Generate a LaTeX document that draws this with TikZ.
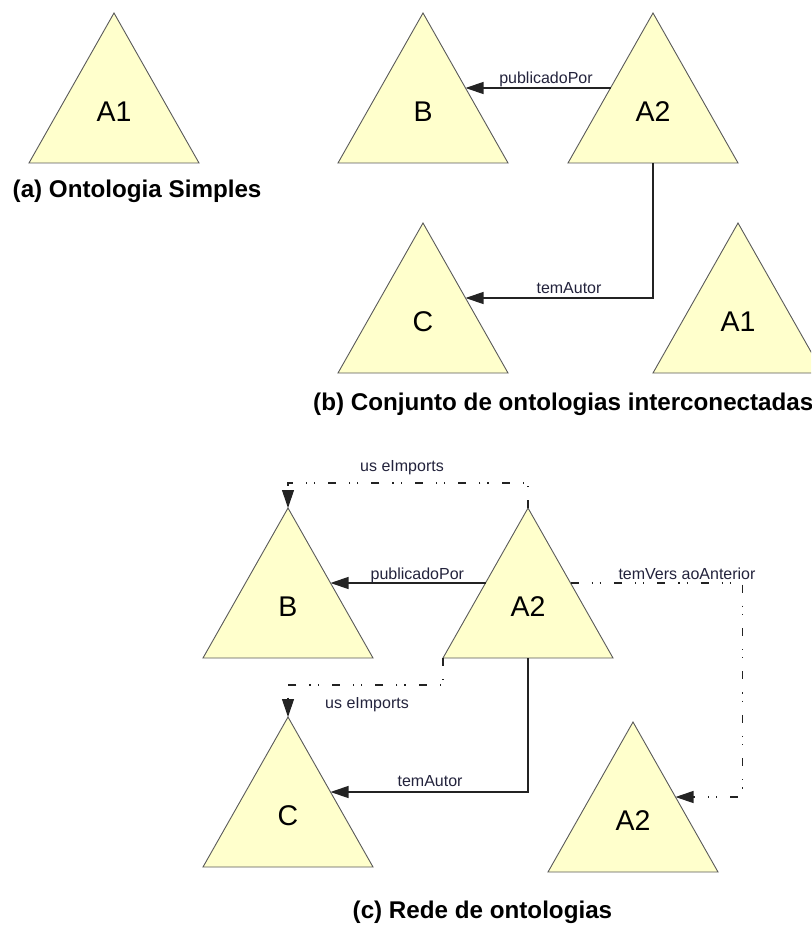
\documentclass[tikz,border=0pt]{standalone}
\usepackage{fontspec}
\setmainfont{Liberation Sans}
\usetikzlibrary{calc,arrows.meta}

\definecolor{ontofill}{RGB}{255,255,204}
\definecolor{ontoedge}{RGB}{90,90,90}
\definecolor{linkcol}{RGB}{35,35,35}
\definecolor{lblcol}{RGB}{35,35,60}

\tikzset{
  ontotri/.style={fill=ontofill, draw=ontoedge, line width=0.9pt, line join=miter},
  ontoname/.style={font=\fontsize{28.5}{28.5}\selectfont, inner sep=0pt},
  link/.style={draw=linkcol, line width=1.2pt, -{Triangle[length=18pt,width=12pt]}},
  importlink/.style={link, line width=1.1pt,
    dash pattern=on 8pt off 13pt on 1.2pt off 7pt on 1.2pt off 13pt},
  linklabel/.style={font=\fontsize{16}{16}\selectfont, text=lblcol, inner sep=0pt, anchor=base},
  caption/.style={font=\bfseries\fontsize{24.2}{24.2}\selectfont, inner sep=0pt, anchor=base west},
}

% An ontology: triangle with its apex at #2, named #1, labelled #3.
% Defines the corners (-apex, -lc, -rc), the base midpoint (-base)
% and the midpoints of the two slanted sides (-ls, -rs).
\newcommand{\ontology}[3]{%
  \coordinate (#1-apex) at (#2);
  \coordinate (#1-lc) at ($(#1-apex)+(-85,150)$);
  \coordinate (#1-rc) at ($(#1-apex)+(85,150)$);
  \path[ontotri] (#1-apex) -- (#1-rc) -- (#1-lc) -- cycle;
  \coordinate (#1-base) at ($(#1-lc)!0.5!(#1-rc)$);
  \coordinate (#1-ls) at ($(#1-apex)!0.5!(#1-lc)$);
  \coordinate (#1-rs) at ($(#1-apex)!0.5!(#1-rc)$);
  \node[ontoname] (#1) at ($(#1-apex)+(0,99)$) {#3};
}

\begin{document}
\begin{tikzpicture}[x=1pt,y=-1pt]
\clip (0,0) rectangle (811,925);

% (a) a single ontology
\ontology{A1a}{114,13}{A1}
\node[caption] (capA) at (12.5,198) {(a) Ontologia Simples};

% (b) a set of interconnected ontologies
\ontology{Bb}{423,13}{B}
\ontology{A2b}{653,13}{A2}
\ontology{Cb}{423,223}{C}
\ontology{A1b}{738,223}{A1}
\draw[link] (A2b-ls) -- node[linklabel, pos=0.445, yshift=4pt] (lpubB) {publicadoPor} (Bb-rs);
\draw[link] (A2b-base) |- node[linklabel, pos=0.724, yshift=5pt] (lautB) {temAutor} (Cb-rs);
\node[caption] (capB) at (313,410) {(b) Conjunto de ontologias interconectadas};

% (c) a network of ontologies
\ontology{Bc}{288,508}{B}
\ontology{A2c}{528,508}{A2}
\ontology{Cc}{288,717}{C}
\ontology{A2d}{633,722}{A2}

\draw[link] (A2c-ls) -- node[linklabel, pos=0.44, yshift=4pt] (lpubC) {publicadoPor} (Bc-rs);
\draw[link] (A2c-base) |- node[linklabel, pos=0.748, yshift=6pt] (lautC) {temAutor} (Cc-rs);

\coordinate (impTop) at ($(A2c-apex)+(0,-25)$);
\draw[importlink] (A2c-apex) -- (impTop) -| (Bc-apex);
\node[linklabel] (limpTop) at ($(A2c-apex)+(-126,-37)$) {us eImports};

\coordinate (impLow) at ($(A2c-lc)+(0,27)$);
\draw[importlink] (A2c-lc) -- (impLow) -| (Cc-apex);
\node[linklabel] (limpLow) at ($(A2c-lc)+(-76,50)$) {us eImports};

\coordinate (verRight) at ($(A2d-rs)+(67,0)$);
\draw[importlink] (A2c-rs) -| (verRight) -- (A2d-rs);
\node[linklabel] (lver) at ($(A2c-rs)+(116.5,-4)$) {temVers aoAnterior};

\node[caption] (capC) at (352.5,918.5) {(c) Rede de ontologias};
\end{tikzpicture}
\end{document}
